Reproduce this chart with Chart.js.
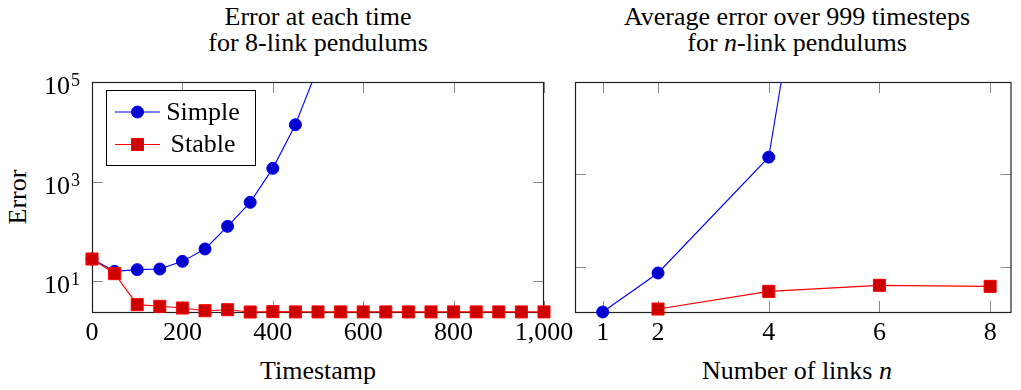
<!DOCTYPE html>
<html><head><meta charset="utf-8">
<script src="https://cdn.jsdelivr.net/npm/chart.js@4.4.0/dist/chart.umd.min.js"></script>
<style>
html,body{margin:0;padding:0;background:#fff;width:1021px;height:390px;overflow:hidden;}
body{position:relative;font-family:"Liberation Serif","Times New Roman",serif;color:#000;}
canvas{position:absolute;top:0;}
#c1{left:0;}
#c2{left:540px;}
.t{position:absolute;text-align:center;font-size:26px;line-height:26px;white-space:nowrap;}
</style></head><body>
<div class="t" style="left:118px;width:400px;top:4px;">Error at each time<br>for 8-link pendulums</div>
<div class="t" style="left:597px;width:400px;top:4px;">Average error over 999 timesteps<br>for <i>n</i>-link pendulums</div>
<div class="t" style="left:218px;width:200px;top:358px;">Timestamp</div>
<div class="t" style="left:647px;width:300px;top:358px;">Number of links <i>n</i></div>
<div class="t" style="left:-32px;width:100px;height:26px;top:184px;transform:rotate(-90deg);">Error</div>
<canvas id="c1" width="600" height="390"></canvas>
<canvas id="c2" width="481" height="390"></canvas>
<script>
// ---- data: left chart (8-link pendulums, error per timestamp) ----
const timeSteps = [0,50,100,150,200,250,300,350,400,450,500,550,600,650,700,750,800,850,900,950,1000];
const simpleError8 = [28.1,15.9,17.2,17.7,25.2,44.7,127,385,1850,13900,200000,null,null,null,null,null,null,null,null,null,null];
const stableError8 = [28.1,14.3,3.41,3.16,2.92,2.58,2.70,2.43,2.47,2.44,2.44,2.44,2.44,2.44,2.44,2.44,2.44,2.44,2.44,2.44,2.44];
const leftXTicks = [0,200,400,600,800,1000];
const leftXTickLabels = ['0','200','400','600','800','1,000'];
const leftYTicks = [1e1,1e3,1e5];
const leftYTickBase = '10';
const leftYTickExps = ['1','3','5'];

// ---- data: right chart (average error over 999 timesteps) ----
const linkCounts = [1,2,4,6,8];
const simpleAvg = [1.06,7.4,2370,6e17,null];
const stableAvg = [null,1.23,2.96,4.0,3.8];
const rightXTicks = [1,2,4,6,8];
const rightXTickLabels = ['1','2','4','6','8'];
const rightYTicks = [1e1,1e3];

const seriesNames = ['Simple','Stable'];

const SERIF = '"Liberation Serif","Times New Roman",serif';

const framePlugin = {
  id: 'frame',
  beforeDatasetsDraw(chart, args, o) {
    const {ctx, chartArea: a} = chart;
    const x = chart.scales.x, y = chart.scales.y;
    ctx.save();
    ctx.strokeStyle = '#8a8a8a';
    ctx.lineWidth = 1;
    ctx.beginPath();
    o.xTicks.forEach(v => {
      const px = Math.round(x.getPixelForValue(v)) + 0.5;
      ctx.moveTo(px, a.bottom); ctx.lineTo(px, a.bottom - 11);
      ctx.moveTo(px, a.top); ctx.lineTo(px, a.top + 11);
    });
    o.yTicks.forEach(v => {
      const py = Math.round(y.getPixelForValue(v)) + 0.5;
      ctx.moveTo(a.left, py); ctx.lineTo(a.left + 11, py);
      ctx.moveTo(a.right, py); ctx.lineTo(a.right - 11, py);
    });
    ctx.stroke();
    ctx.strokeStyle = '#222';
    ctx.lineWidth = 1.2;
    ctx.strokeRect(a.left + 0.5, a.top + 0.5, a.right - a.left - 1, a.bottom - a.top);
    // tick labels
    ctx.fillStyle = '#000';
    ctx.font = '26px ' + SERIF;
    ctx.textAlign = 'center';
    ctx.textBaseline = 'alphabetic';
    o.xTicks.forEach((v, i) => {
      ctx.fillText(o.xLabels[i], x.getPixelForValue(v), a.bottom + 28);
    });
    if (o.yExps) {
      o.yTicks.forEach((v, i) => {
        const py = y.getPixelForValue(v);
        const right = a.left - 12;
        ctx.font = '18px ' + SERIF;
        ctx.textAlign = 'right';
        const ew = ctx.measureText(o.yExps[i]).width;
        ctx.fillText(o.yExps[i], right, py + 4);
        ctx.font = '26px ' + SERIF;
        ctx.fillText(o.yBase, right - ew - 1, py + 12);
      });
    }
    ctx.restore();
  },
  afterDraw(chart, args, o) {
    if (!o.legend) return;
    const {ctx, chartArea: a} = chart;
    const left = a.left + 14, top = a.top + 8, w = 149, h = 75;
    ctx.save();
    ctx.fillStyle = '#fff';
    ctx.fillRect(left, top, w, h);
    ctx.strokeStyle = '#000';
    ctx.lineWidth = 1;
    ctx.strokeRect(left + 0.5, top + 0.5, w, h);
    chart.data.datasets.forEach((ds, i) => {
      const cy = top + 22 + i * 32.5;
      ctx.strokeStyle = ds.borderColor;
      ctx.lineWidth = ds.borderWidth;
      ctx.beginPath();
      ctx.moveTo(left + 9, cy); ctx.lineTo(left + 54, cy);
      ctx.stroke();
      ctx.fillStyle = ds.pointBackgroundColor;
      ctx.strokeStyle = ds.pointBorderColor;
      ctx.lineWidth = ds.pointBorderWidth;
      Chart.helpers.drawPoint(ctx, {pointStyle: ds.pointStyle, radius: ds.pointRadius, rotation: 0, borderWidth: ds.pointBorderWidth}, left + 31.5, cy);
      ctx.fillStyle = '#000';
      ctx.font = '26px ' + SERIF;
      ctx.textAlign = 'center';
      ctx.textBaseline = 'alphabetic';
      ctx.fillText(ds.label, left + 97, cy + 7.5);
    });
    ctx.restore();
  }
};

function makeDatasets(xs, a, b) {
  const clip = {left: 20, right: 20, top: 0, bottom: 20};
  return [
    {label: seriesNames[0], data: xs.map((v, i) => ({x: v, y: a[i]})), order: 1,
     borderColor: '#0000ff', borderWidth: 1.1, pointStyle: 'circle', pointRadius: 6,
     pointBackgroundColor: '#0000cc', pointBorderColor: '#0000ff', pointBorderWidth: 1, clip},
    {label: seriesNames[1], data: xs.map((v, i) => ({x: v, y: b[i]})), order: 0,
     borderColor: '#ff0000', borderWidth: 1.1, pointStyle: 'rect', pointRadius: 8.5,
     pointBackgroundColor: '#cc0000', pointBorderColor: '#ff0000', pointBorderWidth: 1, clip}
  ];
}

function baseOptions(padding, xr, yr, frame) {
  return {
    responsive: false, animation: false, devicePixelRatio: 1,
    layout: {padding},
    elements: {line: {tension: 0, fill: false}},
    scales: {
      x: {type: 'linear', display: false, min: xr[0], max: xr[1]},
      y: {type: 'logarithmic', display: false, min: yr[0], max: yr[1]}
    },
    plugins: {legend: {display: false}, tooltip: {enabled: false}, title: {display: false}, frame}
  };
}

new Chart(document.getElementById('c1'), {
  type: 'line',
  data: {datasets: makeDatasets(timeSteps, simpleError8, stableError8)},
  options: baseOptions({left: 92, right: 56, top: 82, bottom: 78}, [0, 1000], [2.43, 1e5],
    {xTicks: leftXTicks, xLabels: leftXTickLabels, yTicks: leftYTicks, yBase: leftYTickBase, yExps: leftYTickExps, legend: true}),
  plugins: [framePlugin]
});

new Chart(document.getElementById('c2'), {
  type: 'line',
  data: {datasets: makeDatasets(linkCounts, simpleAvg, stableAvg)},
  options: baseOptions({left: 35, right: 1, top: 82, bottom: 78}, [0.5, 8.386], [1.06, 1e5],
    {xTicks: rightXTicks, xLabels: rightXTickLabels, yTicks: rightYTicks, legend: false}),
  plugins: [framePlugin]
});
</script>
</body></html>
